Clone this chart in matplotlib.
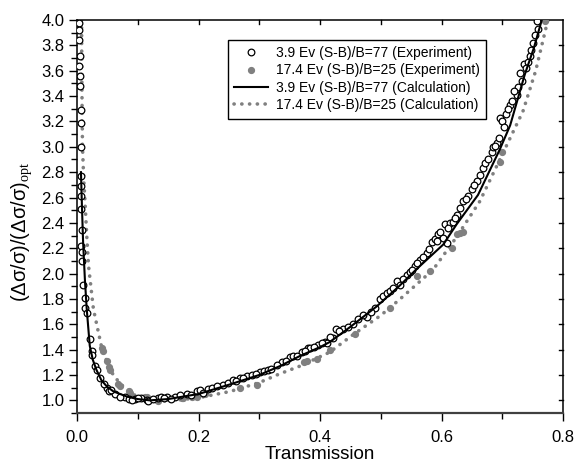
import matplotlib
matplotlib.use("Agg")
import matplotlib.pyplot as plt
from matplotlib.ticker import MultipleLocator, FixedLocator

plt.rcParams['font.family'] = ['Liberation Sans', 'DejaVu Sans']
plt.rcParams['mathtext.fontset'] = 'custom'
plt.rcParams['mathtext.rm'] = 'Liberation Serif'

# --- Calculation curves ---
calc39_x = [0.0065, 0.008, 0.010, 0.013, 0.016, 0.021, 0.026, 0.032, 0.040, 0.049, 0.060,
            0.082, 0.100, 0.120, 0.150, 0.200, 0.252, 0.300, 0.334, 0.367, 0.400, 0.416,
            0.450, 0.493, 0.530, 0.560, 0.603, 0.625, 0.660, 0.696, 0.713, 0.737, 0.752, 0.765]
calc39_y = [2.80, 2.55, 2.25, 1.95, 1.72, 1.43, 1.32, 1.24, 1.16, 1.11, 1.07,
            1.03, 1.01, 1.00, 1.01, 1.05, 1.126, 1.20, 1.27, 1.35, 1.42, 1.46,
            1.58, 1.74, 1.90, 2.04, 2.23, 2.39, 2.62, 2.98, 3.17, 3.57, 3.78, 4.00]

calc174_x = [0.0075, 0.008, 0.009, 0.011, 0.013, 0.016, 0.019, 0.027, 0.040, 0.054, 0.071,
             0.098, 0.120, 0.150, 0.200, 0.252, 0.300, 0.334, 0.367, 0.416, 0.455, 0.500,
             0.532, 0.586, 0.625, 0.663, 0.696, 0.734, 0.755, 0.775]
calc174_y = [4.00, 3.50, 3.00, 2.75, 2.58, 2.30, 2.06, 1.72, 1.43, 1.24, 1.13,
             1.03, 1.00, 0.995, 1.02, 1.07, 1.14, 1.21, 1.27, 1.38, 1.52, 1.67,
             1.80, 2.03, 2.29, 2.57, 2.90, 3.28, 3.60, 4.00]

# --- Experiment 3.9 Ev (open circles) ---
exp39_x = [0.003, 0.004, 0.004, 0.005, 0.004, 0.005, 0.005, 0.006, 0.006, 0.006, 0.007,
           0.007, 0.007, 0.006, 0.008, 0.007, 0.009, 0.009, 0.0104, 0.013, 0.013, 0.016,
           0.021, 0.024, 0.025, 0.030, 0.033, 0.038, 0.049, 0.052, 0.063, 0.079, 0.085,
           0.095, 0.106, 0.115, 0.117, 0.134, 0.139, 0.148, 0.161, 0.181, 0.197, 0.202,
           0.216, 0.222, 0.241, 0.249, 0.257, 0.268, 0.279, 0.288, 0.301, 0.307, 0.315,
           0.337, 0.351, 0.356, 0.370, 0.381, 0.384, 0.397, 0.408, 0.411, 0.422, 0.427,
           0.438, 0.455, 0.463, 0.477, 0.491, 0.499, 0.504, 0.510, 0.526, 0.532, 0.543,
           0.548, 0.556, 0.565, 0.576, 0.584, 0.589, 0.595, 0.598, 0.603, 0.606, 0.609,
           0.614, 0.619, 0.625, 0.630, 0.636, 0.644, 0.650, 0.658, 0.663, 0.669, 0.683,
           0.685, 0.691, 0.694, 0.696, 0.699, 0.702, 0.713, 0.716, 0.724, 0.726, 0.729,
           0.735, 0.743, 0.746, 0.751, 0.754, 0.757, 0.759,
           0.045, 0.056, 0.070, 0.090, 0.101, 0.125, 0.143, 0.155, 0.170, 0.188, 0.208,
           0.230, 0.262, 0.273, 0.294, 0.320, 0.329, 0.344, 0.362, 0.376, 0.390, 0.403,
           0.416, 0.432, 0.446, 0.470, 0.484, 0.515, 0.520, 0.537, 0.552, 0.560, 0.570,
           0.580, 0.592, 0.611, 0.622, 0.640, 0.654, 0.672, 0.676, 0.688, 0.706, 0.709,
           0.720, 0.732, 0.739, 0.748]
exp39_y = [3.98, 3.92, 3.84, 3.72, 3.64, 3.56, 3.48, 3.29, 3.19, 3.00, 2.77,
           2.69, 2.61, 2.51, 2.34, 2.22, 2.17, 2.10, 1.91, 1.81, 1.73, 1.69,
           1.48, 1.39, 1.36, 1.27, 1.24, 1.18, 1.10, 1.07, 1.05, 1.03, 1.01,
           1.01, 1.02, 1.00, 0.995, 1.02, 1.03, 1.03, 1.03, 1.05, 1.07, 1.08,
           1.09, 1.10, 1.12, 1.14, 1.16, 1.18, 1.19, 1.20, 1.22, 1.23, 1.24,
           1.30, 1.34, 1.35, 1.38, 1.41, 1.41, 1.44, 1.46, 1.45, 1.49, 1.56,
           1.56, 1.60, 1.64, 1.66, 1.73, 1.80, 1.82, 1.85, 1.94, 1.91, 1.99,
           2.01, 2.06, 2.11, 2.16, 2.25, 2.27, 2.31, 2.33, 2.28, 2.39, 2.24,
           2.40, 2.41, 2.46, 2.52, 2.57, 2.61, 2.67, 2.73, 2.78, 2.83, 2.96,
           3.00, 3.03, 3.07, 3.23, 3.20, 3.16, 3.33, 3.36, 3.41, 3.47, 3.58,
           3.65, 3.67, 3.72, 3.82, 3.88, 3.99, 3.93,
           1.13, 1.08, 1.03, 1.00, 1.02, 1.01, 1.02, 1.01, 1.04, 1.04, 1.06,
           1.11, 1.15, 1.18, 1.21, 1.25, 1.28, 1.31, 1.35, 1.39, 1.42, 1.45,
           1.50, 1.55, 1.58, 1.67, 1.70, 1.86, 1.89, 1.96, 2.03, 2.08, 2.13,
           2.19, 2.26, 2.36, 2.44, 2.59, 2.70, 2.87, 2.90, 3.01, 3.26, 3.30,
           3.44, 3.52, 3.62, 3.76]

# --- Experiment 17.4 Ev (filled grey circles) ---
exp174_x = [0.041, 0.043, 0.049, 0.052, 0.054, 0.068, 0.071, 0.085, 0.087, 0.109, 0.112,
            0.115, 0.131, 0.134, 0.172, 0.175, 0.189, 0.197, 0.211, 0.268, 0.296, 0.373,
            0.378, 0.395, 0.416, 0.458, 0.515, 0.559, 0.581, 0.617, 0.625, 0.630, 0.636,
            0.696, 0.699, 0.770]
exp174_y = [1.41, 1.39, 1.31, 1.26, 1.24, 1.13, 1.11, 1.07, 1.06, 1.02, 1.03,
            1.03, 1.00, 0.995, 1.02, 1.02, 1.03, 1.03, 1.05, 1.10, 1.12, 1.30,
            1.31, 1.33, 1.40, 1.52, 1.73, 1.98, 2.02, 2.20, 2.31, 2.32, 2.33,
            2.88, 2.96, 3.99]

x_ticks = [0.0, 0.2, 0.4, 0.6, 0.8]
y_ticks = [1.0, 1.2, 1.4, 1.6, 1.8, 2.0, 2.2, 2.4, 2.6, 2.8, 3.0, 3.2, 3.4, 3.6, 3.8, 4.0]

labels = ['3.9 Ev (S-B)/B=77 (Experiment)', '17.4 Ev (S-B)/B=25 (Experiment)',
          '3.9 Ev (S-B)/B=77 (Calculation)', '17.4 Ev (S-B)/B=25 (Calculation)']

fig = plt.figure(figsize=(5.76, 4.66), dpi=100)
ax = fig.add_axes([0.1337, 0.1137, 0.8438, 0.8433])

grey = '#808080'
h4, = ax.plot(calc174_x, calc174_y, color=grey, lw=2.6, linestyle=(0, (0.05, 2.1)),
              dash_capstyle='round', zorder=2)
h2, = ax.plot(exp174_x, exp174_y, 'o', color=grey, ms=4.2, mec=grey, zorder=3)
h1, = ax.plot(exp39_x, exp39_y, 'o', mfc='white', mec='black', mew=0.9, ms=4.8, zorder=4)
h3, = ax.plot(calc39_x, calc39_y, color='black', lw=1.5, zorder=5)

ax.set_xlim(0.0, 0.8)
ax.set_ylim(0.9, 4.0)
ax.xaxis.set_major_locator(FixedLocator(x_ticks))
ax.yaxis.set_major_locator(FixedLocator(y_ticks))
ax.xaxis.set_minor_locator(MultipleLocator(0.1))
ax.yaxis.set_minor_locator(MultipleLocator(0.1))
ax.set_xticklabels([f'{v:.1f}' for v in x_ticks])
ax.set_yticklabels([f'{v:.1f}' for v in y_ticks])

ax.tick_params(axis='both', which='major', direction='out', length=6, width=1,
               labelsize=12, top=False, right=False)
ax.tick_params(axis='both', which='minor', direction='out', length=4, width=1,
               top=False, right=False)
ax.tick_params(axis='x', pad=6)
ax.tick_params(axis='y', pad=3)

# inward ticks on top and right axes
for v in [0.1 * i for i in range(1, 8)]:
    ax.plot([v, v], [1, 0.99], transform=ax.get_xaxis_transform(), color='black', lw=1,
            clip_on=False, zorder=6)
for v in y_ticks[:-1]:
    ax.plot([1, 0.992], [v, v], transform=ax.get_yaxis_transform(), color='black', lw=1,
            clip_on=False, zorder=6)

for s in ax.spines.values():
    s.set_linewidth(1.1)
ax.spines['bottom'].set_color('#404040')
ax.spines['bottom'].set_linewidth(1.6)

ax.set_xlabel('Transmission', fontsize=13.5, labelpad=1)
ax.set_ylabel('(Δσ/σ)/(Δσ/σ)$_{\\mathrm{opt}}$', fontsize=14.5)
ax.yaxis.set_label_coords(-0.088, 0.46)

leg = ax.legend([h1, h2, h3, h4], labels, loc='upper right', bbox_to_anchor=(0.842, 0.95),
                fontsize=10, frameon=True, fancybox=False, framealpha=1, edgecolor='black',
                handlelength=2.4, handletextpad=0.6, labelspacing=0.25, borderpad=0.45,
                borderaxespad=0)
leg.get_frame().set_linewidth(1.0)

fig.savefig('out.png', dpi=100)
